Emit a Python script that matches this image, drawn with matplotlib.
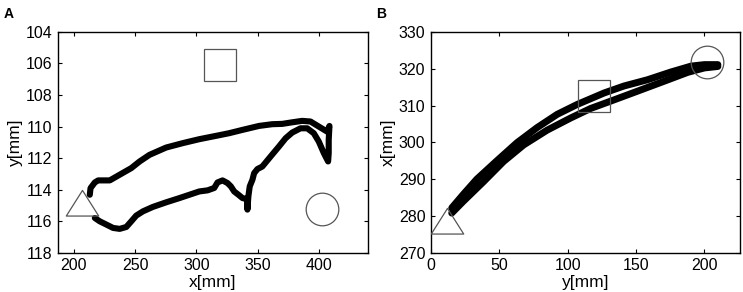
import matplotlib
matplotlib.use("Agg")
import matplotlib.pyplot as plt
from matplotlib.path import Path

plt.rcParams["font.family"] = ["Liberation Sans", "DejaVu Sans"]

# panel A: trajectory in the x-y plane
a_x = [213.0, 213.6, 217.1, 219.8, 229.3, 237.4, 246.9, 253.7, 261.8, 275.3,
       288.9, 302.4, 316.0, 326.8, 337.7, 351.2, 362.0, 370.2, 378.3, 386.4,
       393.2, 400.0, 406.8, 408.7, 408.1, 408.1, 407.6, 404.1, 400.0, 395.9,
       390.5, 385.1, 378.3, 372.9, 367.5, 360.7, 353.9, 349.9, 347.2, 345.8,
       343.6, 342.5, 341.7, 341.5, 337.7, 334.4, 330.9, 328.2, 325.5, 321.4,
       317.3, 314.6, 309.2, 302.4, 294.3, 286.2, 275.3, 264.5, 256.4, 250.9,
       246.9, 242.8, 237.4, 232.0, 226.6, 221.1, 217.1]
a_y = [114.32, 113.9, 113.54, 113.41, 113.41, 113.05, 112.63, 112.21, 111.79, 111.33,
       111.05, 110.8, 110.59, 110.42, 110.21, 109.96, 109.85, 109.83, 109.73, 109.64,
       109.68, 110.0, 110.32, 109.96, 110.84, 111.68, 112.21, 111.68, 110.95, 110.42,
       110.11, 110.11, 110.38, 110.74, 111.26, 111.89, 112.53, 112.69, 112.95, 113.37,
       113.79, 114.42, 115.26, 114.6, 114.53, 114.32, 114.11, 113.79, 113.58, 113.41,
       113.54, 113.89, 114.04, 114.11, 114.32, 114.53, 114.8, 115.09, 115.37, 115.64,
       116.0, 116.36, 116.48, 116.42, 116.21, 116.0, 115.79]
a_start = (207.0, 115.1)
a_mid = (319.0, 106.1)
a_end = (403.0, 115.2)

# panel B: trajectory in the y-x plane, out and back
b_out_y = [15.2, 23.7, 33.5, 48.2, 62.9, 77.6, 92.3, 107.0, 126.6, 141.2,
           158.4, 175.5, 190.2, 200.0, 209.8]
b_out_x = [282.2, 285.9, 290.0, 295.0, 299.9, 304.0, 307.6, 310.3, 313.4, 315.3,
           317.0, 319.1, 320.7, 321.1, 321.1]
b_back_y = [209.8, 200.0, 187.8, 170.6, 151.1, 131.5, 116.8, 102.1, 84.9, 67.8,
            53.1, 38.4, 23.7, 15.2]
b_back_x = [320.6, 320.2, 319.0, 316.6, 313.9, 311.2, 309.2, 306.6, 303.3, 299.3,
            294.8, 289.3, 284.0, 280.8]
b_start = (11.5, 277.6)
b_mid = (119.0, 312.5)
b_end = (202.0, 321.9)

tri = Path([(0, 1.053), (-1, -0.527), (1, -0.527), (0, 1.053)],
           [Path.MOVETO, Path.LINETO, Path.LINETO, Path.CLOSEPOLY])

fig = plt.figure(figsize=(7.43, 2.92), dpi=100)
ax_a = fig.add_axes([0.078, 0.134, 0.417, 0.757])
ax_b = fig.add_axes([0.580, 0.134, 0.416, 0.757])


def markers(ax, start, mid, end):
    kw = dict(linestyle="none", markerfacecolor="none", markeredgecolor="#555555",
              markeredgewidth=0.9, zorder=3)
    ax.plot(*start, marker=tri, markersize=24.6, **kw)
    ax.plot(*mid, marker="s", markersize=23.5, **kw)
    ax.plot(*end, marker="o", markersize=23.5, **kw)


def style(ax):
    ax.tick_params(direction="in", length=3, width=0.8, top=True, right=True,
                   labelsize=11.5, pad=4)
    for s in ax.spines.values():
        s.set_linewidth(1.0)


ax_a.plot(a_x, a_y, color="black", lw=4.4, solid_capstyle="round",
          solid_joinstyle="round")
markers(ax_a, a_start, a_mid, a_end)
ax_a.set_xlim(187, 440)
ax_a.set_ylim(118, 104)
ax_a.set_xticks([200, 250, 300, 350, 400])
ax_a.set_yticks([104, 106, 108, 110, 112, 114, 116, 118])
ax_a.set_xlabel("x[mm]", fontsize=12.5, labelpad=1)
ax_a.set_ylabel("y[mm]", fontsize=12.5, labelpad=2)
style(ax_a)

ax_b.plot(b_out_y, b_out_x, color="black", lw=5.0, solid_capstyle="round",
          solid_joinstyle="round")
ax_b.plot(b_back_y, b_back_x, color="black", lw=5.0, solid_capstyle="round",
          solid_joinstyle="round")
markers(ax_b, b_start, b_mid, b_end)
ax_b.set_xlim(0, 226)
ax_b.set_ylim(270, 330)
ax_b.set_xticks([0, 50, 100, 150, 200])
ax_b.set_yticks([270, 280, 290, 300, 310, 320, 330])
ax_b.set_xlabel("y[mm]", fontsize=12.5, labelpad=1)
ax_b.set_ylabel("x[mm]", fontsize=12.5, labelpad=2)
style(ax_b)

fig.text(0.005, 0.975, "A", fontsize=10, fontweight="bold", va="top")
fig.text(0.506, 0.975, "B", fontsize=10, fontweight="bold", va="top")

fig.savefig("out.png", dpi=100)
